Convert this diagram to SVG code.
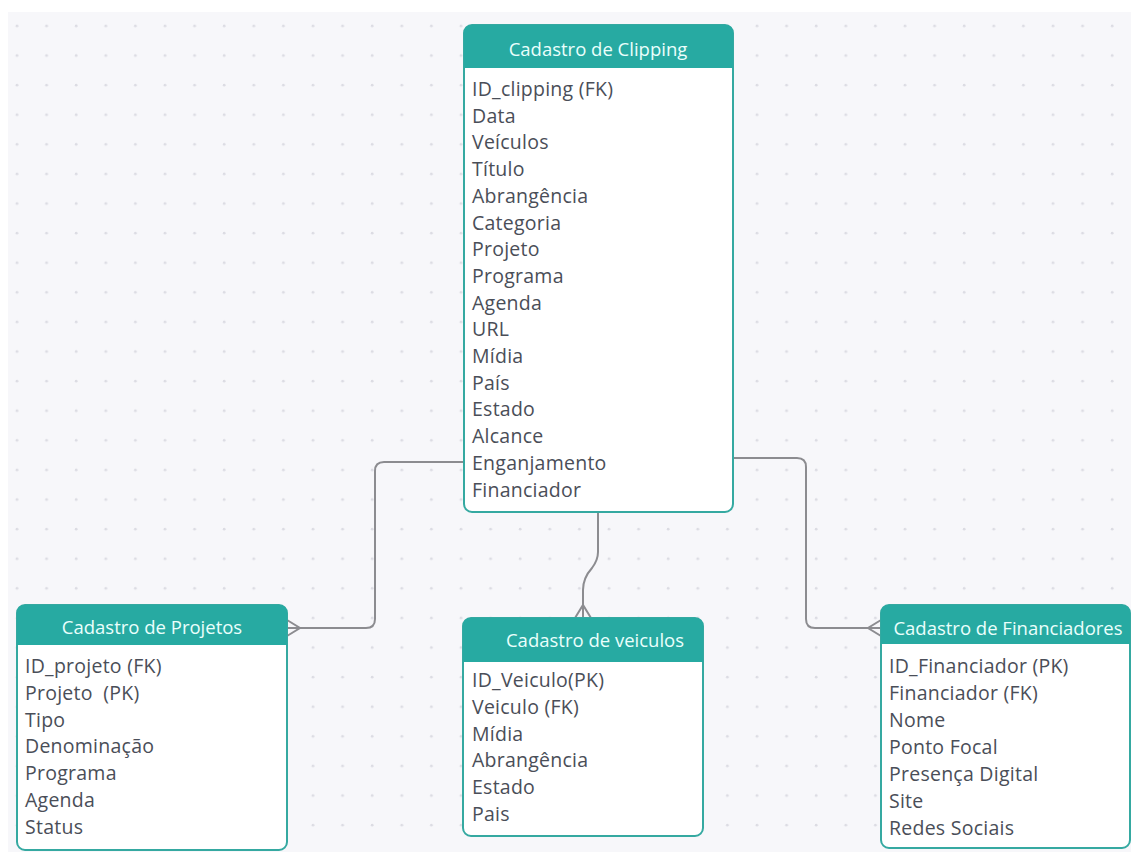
<svg xmlns="http://www.w3.org/2000/svg" width="1131" height="855" viewBox="0 0 1131 855">
<defs>
<pattern id="dots" x="2" y="11" width="29.6" height="29.6" patternUnits="userSpaceOnUse">
<circle cx="15" cy="15" r="1.4" fill="#dcdce3"/>
</pattern>
<style>
.box{fill:#ffffff;stroke:#35a9a1;stroke-width:2}
.hdr{fill:#27aaa2}
.ttl{font-family:"Open Sans","Liberation Sans",sans-serif;font-size:18.5px;fill:#eafffc;text-anchor:middle}
.row{font-family:"Open Sans","Liberation Sans",sans-serif;font-size:19.5px;letter-spacing:0.25px;fill:#4a4e58}
.pre{white-space:pre}
.con{fill:none;stroke:#8c8c90;stroke-width:2}
</style>
</defs>
<rect x="0" y="0" width="1131" height="855" fill="#ffffff"/>
<rect x="8" y="12" width="1123" height="840" fill="#f7f7fa"/>
<rect x="8" y="12" width="1123" height="840" fill="url(#dots)"/>

<g id="connectors">
<path class="con" d="M464,462 H384 Q375,462 375,471 V619 Q375,628 366,628 H288"/>
<path class="con" d="M287,620 L300,628 L287,636 M287,628 H300"/>
<path class="con" d="M598,512 V552 Q598,560 592,568 Q583,578 583,590 V618"/>
<path class="con" d="M575,618 L583,605 L591,618 M583,618 V605"/>
<path class="con" d="M733,458 H797 Q806,458 806,467 V619 Q806,628 815,628 H880"/>
<path class="con" d="M881,620 L868,628 L881,636 M881,628 H868"/>
</g>

<g id="clipping">
<rect class="box" x="464" y="25" width="269" height="487" rx="8"/>
<path class="hdr" d="M464,68 V33 Q464,25 472,25 H725 Q733,25 733,33 V68 Z"/>
<text class="ttl" x="598" y="56">Cadastro de Clipping</text>
<text class="row" x="472" y="96">ID_clipping (FK)</text>
<text class="row" x="472" y="122.7">Data</text>
<text class="row" x="472" y="149.4">Veículos</text>
<text class="row" x="472" y="176.1">Título</text>
<text class="row" x="472" y="202.8">Abrangência</text>
<text class="row" x="472" y="229.5">Categoria</text>
<text class="row" x="472" y="256.2">Projeto</text>
<text class="row" x="472" y="282.9">Programa</text>
<text class="row" x="472" y="309.6">Agenda</text>
<text class="row" x="472" y="336.3">URL</text>
<text class="row" x="472" y="363">Mídia</text>
<text class="row" x="472" y="389.7">País</text>
<text class="row" x="472" y="416.4">Estado</text>
<text class="row" x="472" y="443.1">Alcance</text>
<text class="row" x="472" y="469.8">Enganjamento</text>
<text class="row" x="472" y="496.5">Financiador</text>
</g>

<g id="projetos">
<rect class="box" x="17" y="605" width="270" height="245" rx="8"/>
<path class="hdr" d="M17,645 V613 Q17,605 25,605 H279 Q287,605 287,613 V645 Z"/>
<text class="ttl" x="152" y="634">Cadastro de Projetos</text>
<text class="row" x="25" y="673">ID_projeto (FK)</text>
<text class="row pre" x="25" y="699.8">Projeto  (PK)</text>
<text class="row" x="25" y="726.6">Tipo</text>
<text class="row" x="25" y="753.4">Denominação</text>
<text class="row" x="25" y="780.2">Programa</text>
<text class="row" x="25" y="807">Agenda</text>
<text class="row" x="25" y="833.8">Status</text>
</g>

<g id="veiculos">
<rect class="box" x="463" y="618" width="240" height="218" rx="8"/>
<path class="hdr" d="M463,662 V626 Q463,618 471,618 H695 Q703,618 703,626 V662 Z"/>
<text class="ttl" x="595" y="647">Cadastro de veiculos</text>
<text class="row" x="472" y="687">ID_Veiculo(PK)</text>
<text class="row" x="472" y="713.8">Veiculo (FK)</text>
<text class="row" x="472" y="740.6">Mídia</text>
<text class="row" x="472" y="767.4">Abrangência</text>
<text class="row" x="472" y="794.2">Estado</text>
<text class="row" x="472" y="821">Pais</text>
</g>

<g id="financiadores">
<rect class="box" x="881" y="605" width="249" height="243" rx="8"/>
<path class="hdr" d="M881,644 V613 Q881,605 889,605 H1122 Q1130,605 1130,613 V644 Z"/>
<text class="ttl" x="1008" y="635">Cadastro de Financiadores</text>
<text class="row" x="889" y="673">ID_Financiador (PK)</text>
<text class="row" x="889" y="700">Financiador (FK)</text>
<text class="row" x="889" y="727">Nome</text>
<text class="row" x="889" y="754">Ponto Focal</text>
<text class="row" x="889" y="781">Presença Digital</text>
<text class="row" x="889" y="808">Site</text>
<text class="row" x="889" y="835">Redes Sociais</text>
</g>
</svg>
